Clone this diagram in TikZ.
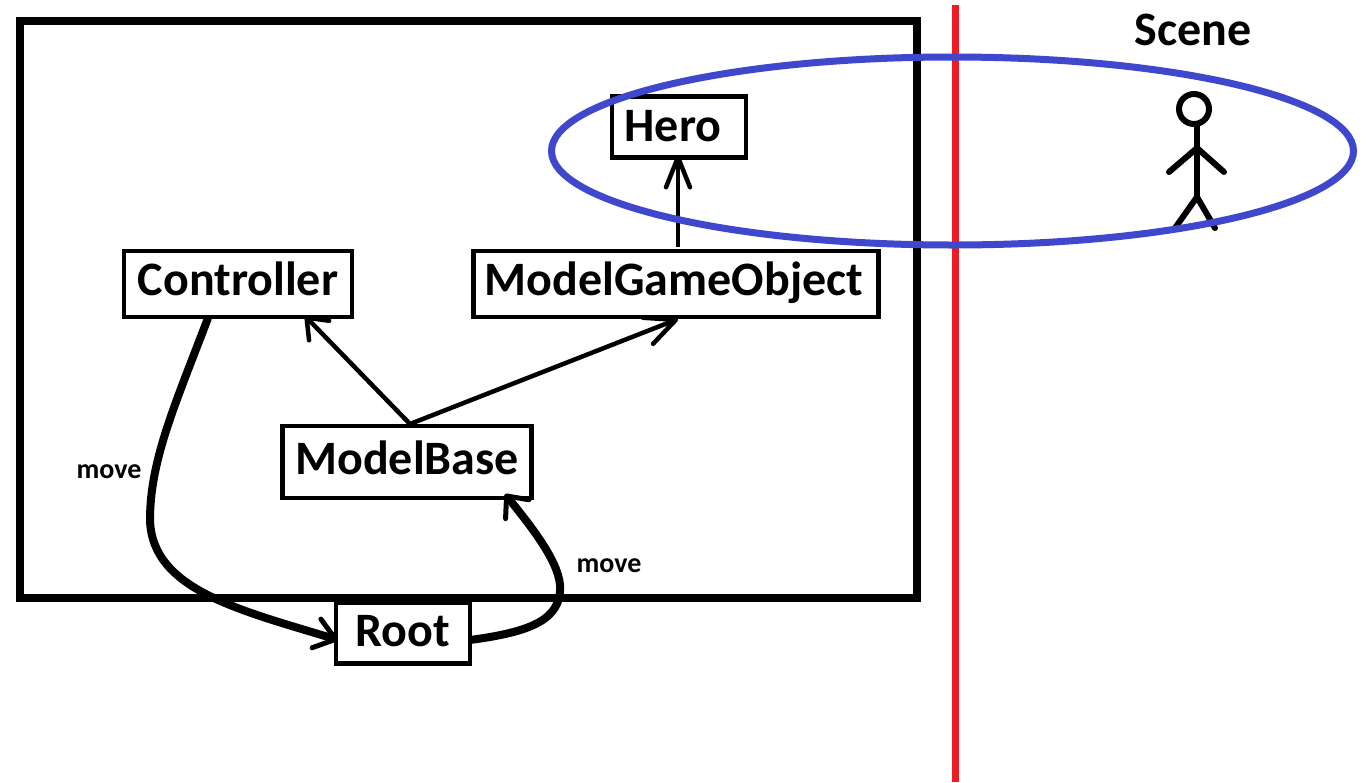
\documentclass[tikz,border=0pt]{standalone}
\usepackage{fontspec}
\setmainfont{Carlito}
\usetikzlibrary{arrows.meta}
\definecolor{linered}{RGB}{237,28,36}
\definecolor{ringblue}{RGB}{63,72,204}
\tikzset{
  px/.style={x=1pt,y=-1pt},
  box/.style={draw=black,line width=4.5pt,fill=white,inner sep=0pt,font=\bfseries\fontsize{48}{48}\selectfont,anchor=center,text height=35pt},
  lab/.style={font=\bfseries\fontsize{28}{28}\selectfont,inner sep=0pt},
  thin arrow/.style 2 args={line width=4.5pt,-{Straight Barb[length=#1,width=#2,line width=4.5pt,round]}},
  thick arrow/.style 2 args={line width=8pt,-{Straight Barb[length=#1,width=#2,line width=5pt,round]}},
  figure/.style={line width=6pt,line cap=round}
}
\begin{document}
\begin{tikzpicture}[px]
\useasboundingbox (0,0) rectangle (1370,782);
\fill[white] (0,0) rectangle (1370,782);
\draw[line width=7.5pt] (20,21) rectangle (917,598);
\node[box,minimum width=134pt,minimum height=61pt,text depth=7pt] (hero) at (679,127) {Hero\kern12pt};
\node[box,minimum width=228pt,minimum height=66pt,text depth=13pt] (controller) at (238,284) {Controller};
\node[box,minimum width=405pt,minimum height=66pt,text depth=13pt] (mgo) at (676,284) {ModelGameObject\kern4pt};
\node[box,minimum width=249pt,minimum height=72pt,text depth=11pt] (mb) at (407,462) {ModelBase};
\node[box,minimum width=134pt,minimum height=61pt,text depth=9pt] (root) at (403,633) {Root};
\coordinate (mgotop) at (678,247);
\coordinate (herob) at (678,155);
\draw[thin arrow={30pt}{24pt}] (mgotop) -- (herob);
\coordinate (mbtop) at (410,424);
\coordinate (cbot) at (305,316);
\coordinate (mgob) at (678,319);
\draw[thin arrow={18pt}{28pt}] (mbtop) -- (cbot);
\draw[thin arrow={30pt}{28pt}] (mbtop) -- (mgob);
\coordinate (c1) at (208,318);
\coordinate (r1) at (338,640);
\draw[thick arrow={20pt}{30pt}] (c1) .. controls (175,405) and (150,460) .. (150,520) .. controls (152,590) and (240,610) .. (r1);
\coordinate (r2) at (470,640);
\coordinate (mb2) at (505,494);
\draw[thick arrow={17pt}{30pt}] (r2) .. controls (530,632) and (562,620) .. (560,585) .. controls (558,560) and (530,525) .. (mb2);
\node[lab] (m1) at (109,472) {move};
\node[lab] (m2) at (609,566) {move};
\draw[line width=7pt,draw=linered] (955,5) -- (955,782);
\node[font=\bfseries\fontsize{48}{48}\selectfont,inner sep=0pt] (scene) at (1193,30) {Scene};
\draw[figure] (1194,109) circle (15pt);
\draw[figure] (1197,125) -- (1197,197);
\draw[figure] (1169,172) -- (1197,148) -- (1224,172);
\draw[figure] (1175,228) -- (1197,197) -- (1215,228);
\draw[line width=7pt,draw=ringblue] (952.5,151) ellipse (401pt and 94pt);
\end{tikzpicture}
\end{document}
